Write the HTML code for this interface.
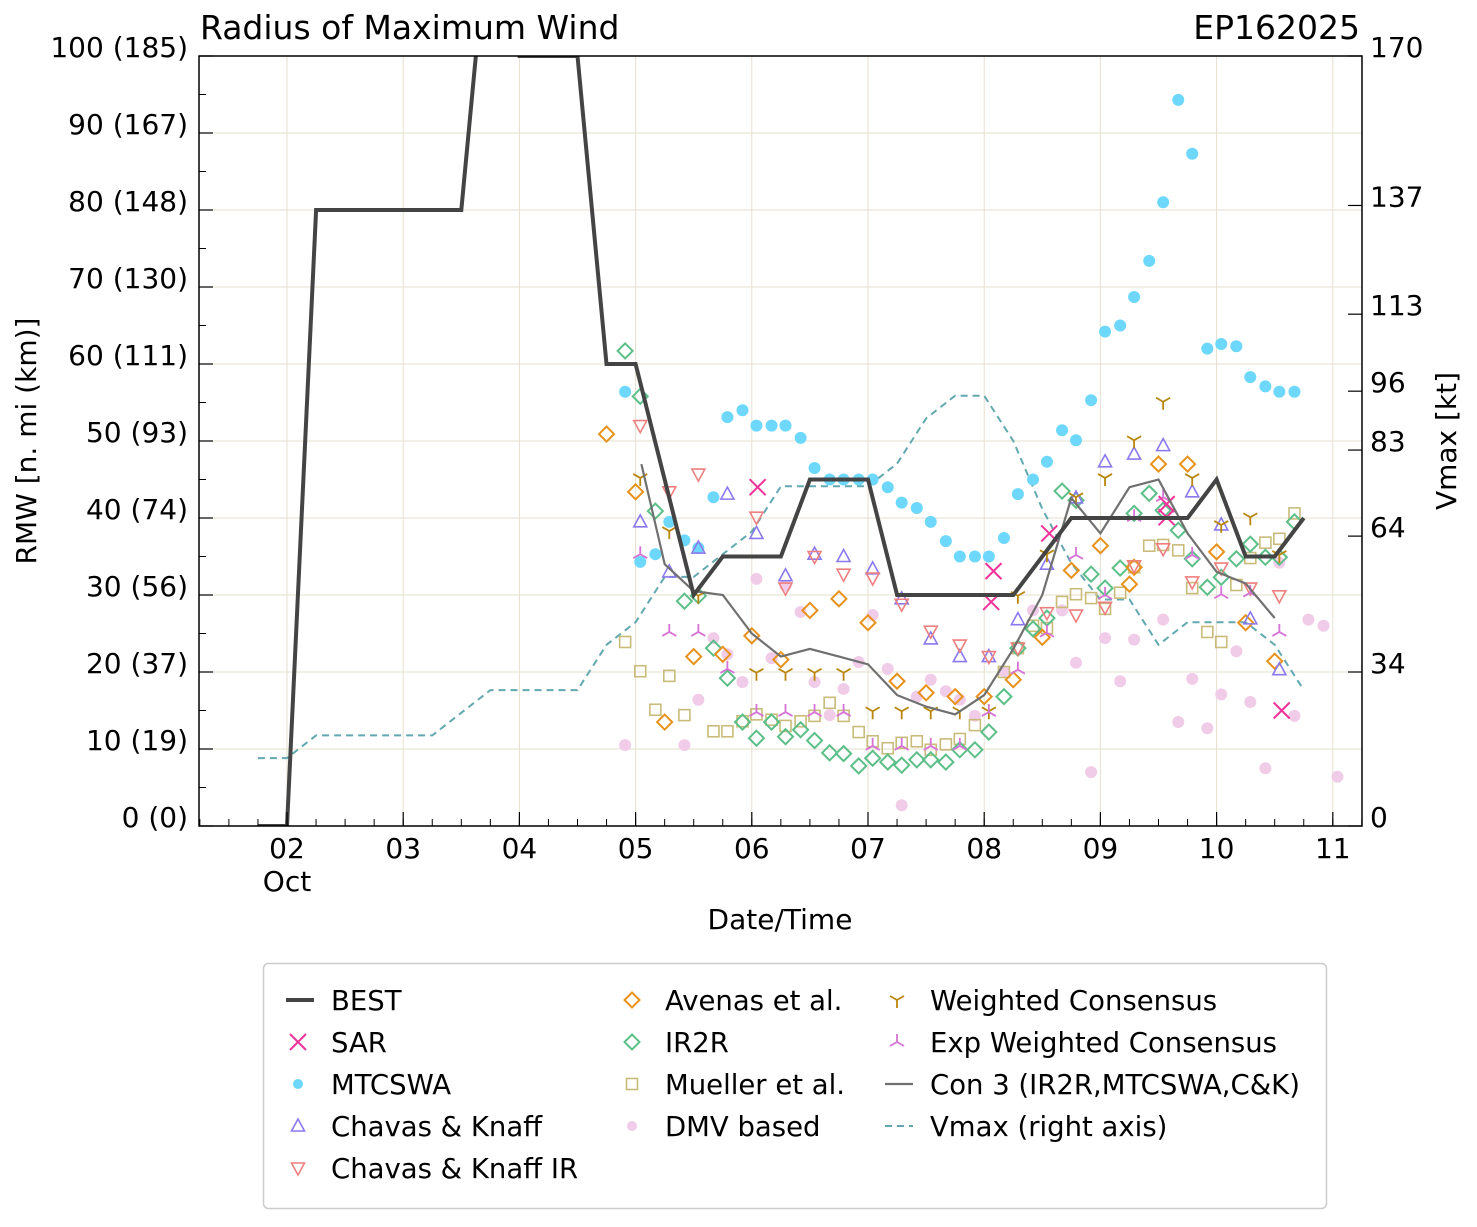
<!DOCTYPE html>
<html><head><meta charset="utf-8">
<style>
body{margin:0;background:#fff;}
svg text{font-family:"DejaVu Sans","Liberation Sans",sans-serif;fill:#000;}
</style></head>
<body>
<svg id="chart" width="1477" height="1222" viewBox="0 0 1477 1222" xmlns="http://www.w3.org/2000/svg">
<defs><clipPath id="plotclip"><rect x="199" y="56" width="1163" height="770"/></clipPath></defs>
<rect x="0" y="0" width="1477" height="1222" fill="#fff"/>
<g id="grid"></g>
<g id="series" clip-path="url(#plotclip)"></g>
<rect x="199" y="56" width="1163" height="770" fill="none" stroke="#000" stroke-width="1.5"/>
<g id="axes"></g>
<text x="200" y="39" font-size="33">Radius of Maximum Wind</text>
<text x="1360" y="39" font-size="33" text-anchor="end">EP162025</text>
<text x="780" y="929" font-size="28" text-anchor="middle">Date/Time</text>
<text transform="translate(36,441) rotate(-90)" font-size="28" text-anchor="middle">RMW [n. mi (km)]</text>
<text transform="translate(1456,441) rotate(-90)" font-size="28" text-anchor="middle">Vmax [kt]</text>
<g id="legend"></g>
</svg>
<script>
const NS="http://www.w3.org/2000/svg";
const xTicks=[2,3,4,5,6,7,8,9,10,11];
const xTickLabels=["02","03","04","05","06","07","08","09","10","11"];
const yTicks=[0,10,20,30,40,50,60,70,80,90,100];
const yTickLabels=["0 (0)","10 (19)","20 (37)","30 (56)","40 (74)","50 (93)","60 (111)","70 (130)","80 (148)","90 (167)","100 (185)"];
const rTicks=[0,34,64,83,96,113,137,170];

const bestT=[1.75,2,2.25,3.5,3.75,4,4.5,4.75,5,5.5,5.75,6.25,6.5,7,7.25,8.25,8.75,9.75,10,10.25,10.5,10.75];
const bestV=[0,0,80,80,120,100,100,60,60,30,35,35,45,45,30,30,40,40,45,35,35,40];

const vmaxT=[1.75,2,2.25,3.25,3.75,4.5,4.75,5,5.25,5.5,5.75,6,6.25,6.5,7,7.25,7.5,7.75,8,8.25,8.5,8.75,9,9.25,9.5,9.75,10,10.25,10.5,10.75];
const vmaxV=[15,15,20,20,30,30,40,45,55,55,60,65,75,75,75,80,90,95,95,85,70,58,50,50,40,45,45,45,40,30];

const con3T=[5.05,5.25,5.5,5.75,6,6.25,6.5,6.75,7,7.25,7.5,7.75,8,8.25,8.5,8.75,9,9.25,9.5,9.75,10,10.25,10.5];
const con3V=[47,34,30.5,30,25,22,23,22,21,17,15.5,14.5,17,23,30,42.6,38,44,45,38,33,31.5,27];

const mtcswa=[[4.91,56.4],[5.04,34.3],[5.17,35.3],[5.29,39.5],[5.42,37.1],[5.54,36.1],[5.67,42.7],[5.79,53.1],[5.92,54],[6.04,52],[6.17,52],[6.29,52],[6.42,50.4],[6.54,46.5],[6.67,45],[6.79,45],[6.92,45],[7.04,45],[7.17,44],[7.29,42],[7.42,41.3],[7.54,39.5],[7.67,37],[7.79,35],[7.92,35],[8.04,35],[8.17,37.4],[8.29,43.1],[8.42,45],[8.54,47.3],[8.67,51.4],[8.79,50.1],[8.92,55.3],[9.04,64.2],[9.17,65],[9.29,68.7],[9.42,73.4],[9.54,81],[9.67,94.3],[9.79,87.3],[9.92,62],[10.04,62.6],[10.17,62.3],[10.29,58.3],[10.42,57.1],[10.54,56.4],[10.67,56.4]];
const sar=[[6.05,44],[8.08,33.1],[8.06,29.1],[8.56,38],[9.57,41.8],[9.57,40.1],[10.56,15]];
const ck=[[5.04,39.5],[5.29,33],[5.54,36.1],[5.79,43.1],[6.04,38],[6.29,32.5],[6.54,35.3],[6.79,35],[7.04,33.4],[7.29,29.5],[7.54,24.3],[7.79,22],[8.04,22],[8.29,26.8],[8.54,34],[8.79,42.6],[9.04,47.3],[9.29,48.3],[9.54,49.4],[9.79,43.4],[10.04,39.1],[10.29,26.9],[10.54,20.3]];
const ckir=[[5.04,52],[5.29,43.4],[5.54,45.7],[6.04,40.1],[6.29,30.9],[6.54,35],[6.79,32.7],[7.04,32.2],[7.29,28.8],[7.54,25.3],[7.79,23.5],[8.04,22],[8.29,23.1],[8.54,27.7],[8.79,27.4],[9.04,28.4],[9.29,33.8],[9.54,36],[9.79,31.7],[10.04,33.5],[10.29,30.9],[10.54,29.9]];
const avenas=[[4.75,50.9],[5,43.4],[5.25,13.5],[5.5,22],[5.75,22.3],[6,24.7],[6.25,21.6],[6.5,28],[6.75,29.5],[7,26.4],[7.25,18.8],[7.5,17.3],[7.75,16.8],[8,16.8],[8.25,19],[8.5,24.5],[8.75,33.2],[9,36.4],[9.25,31.4],[9.29,33.6],[9.5,47],[9.75,47],[10,35.6],[10.25,26.4],[10.5,21.4]];
const ir2r=[[4.91,61.7],[5.04,55.8],[5.17,40.9],[5.42,29.2],[5.54,29.9],[5.67,23.1],[5.79,19.2],[5.92,13.5],[6.04,11.4],[6.17,13.5],[6.29,11.6],[6.42,12.5],[6.54,11.1],[6.67,9.5],[6.79,9.4],[6.92,7.8],[7.04,8.8],[7.17,8.3],[7.29,7.9],[7.42,8.6],[7.54,8.6],[7.67,8.3],[7.79,9.9],[7.92,9.9],[8.04,12.2],[8.17,16.8],[8.29,23.1],[8.42,25.6],[8.54,27],[8.67,43.5],[8.79,42.3],[8.92,32.7],[9.04,30.9],[9.17,33.5],[9.29,40.6],[9.42,43.2],[9.54,41],[9.67,38.4],[9.79,34.7],[9.92,31],[10.04,32.3],[10.17,34.7],[10.29,36.6],[10.42,34.9],[10.54,34.9],[10.67,39.5]];
const mueller=[[4.91,23.9],[5.04,20.1],[5.17,15.1],[5.29,19.5],[5.42,14.4],[5.67,12.3],[5.79,12.3],[5.92,13.6],[6.04,14.5],[6.17,13.8],[6.29,13],[6.42,13.6],[6.54,14.3],[6.67,16],[6.79,14.3],[6.92,12.2],[7.04,11],[7.17,10.1],[7.29,10.8],[7.42,11],[7.54,9.9],[7.67,10.6],[7.79,11.3],[7.92,13.1],[8.17,20],[8.29,23.1],[8.42,26],[8.54,25.7],[8.67,29.1],[8.79,30.1],[8.92,29.6],[9.04,28.2],[9.17,30.3],[9.29,33.6],[9.42,36.4],[9.54,36.5],[9.67,35.8],[9.79,30.9],[9.92,25.2],[10.04,23.9],[10.17,31.3],[10.29,34.8],[10.42,36.8],[10.54,37.3],[10.67,40.6]];
const dmv=[[4.91,10.5],[5.42,10.5],[5.54,16.4],[5.67,24.4],[5.79,22.3],[5.92,18.7],[6.04,32.1],[6.17,21.8],[6.29,31.2],[6.42,27.8],[6.54,18.7],[6.67,14.4],[6.79,17.8],[6.92,21.3],[7.04,27.4],[7.17,20.4],[7.29,2.7],[7.42,16.8],[7.54,19],[7.67,17.5],[7.79,16.4],[7.92,14.3],[8.17,20.1],[8.42,28],[8.67,28],[8.79,21.2],[8.92,7],[9.04,24.4],[9.17,18.8],[9.29,24.2],[9.54,26.8],[9.67,13.5],[9.79,19.1],[9.92,12.7],[10.04,17.1],[10.17,22.7],[10.29,16.1],[10.42,7.5],[10.54,34.2],[10.67,14.3],[10.79,26.8],[10.92,26],[11.04,6.4]];
const wcons=[[5.04,45.2],[5.29,38.3],[5.54,29.9],[6.04,19.9],[6.29,19.9],[6.54,19.9],[6.79,19.9],[7.04,14.9],[7.29,14.9],[7.54,14.9],[7.79,14.9],[8.04,14.9],[8.29,29.9],[8.54,35.3],[8.79,42.7],[9.04,45.2],[9.29,50.1],[9.54,55.1],[9.79,45.2],[10.04,39.1],[10.29,40.1],[10.54,35.2]];
const ewcons=[[5.04,35.3],[5.29,25.2],[5.54,25.2],[5.79,20.4],[6.04,14.8],[6.29,14.8],[6.54,14.8],[6.79,14.8],[7.04,10.4],[7.29,10.4],[7.54,10.4],[7.79,10.4],[8.04,14.8],[8.29,20.3],[8.54,25.1],[8.79,35.2],[9.04,30],[9.29,40.1],[9.54,42.7],[9.79,35.2],[10.04,30.1],[10.29,30.3],[10.54,25.2]];

const X0=199,X1=1362,Y0=826,Y1=56;
const xs=d=>287+(d-2)*116.2;
const ys=v=>Y0-(v/100)*(Y0-Y1);
const yr=k=>Y0-(k/170)*(Y0-Y1);

function mk(tag,attrs,parent){const e=document.createElementNS(NS,tag);for(const k in attrs)e.setAttribute(k,attrs[k]);parent.appendChild(e);return e;}
const grid=document.getElementById('grid'),axes=document.getElementById('axes'),ser=document.getElementById('series'),leg=document.getElementById('legend');

xTicks.forEach((t,i)=>{const x=xs(t);
  let g=mk('line',{x1:x,x2:x,y1:Y1,y2:Y0,stroke:'#e6dfcf','stroke-width':1},grid);
  
  let tk=mk('line',{x1:x,x2:x,y1:Y0,y2:Y0-14,stroke:'#000','stroke-width':1.2},axes);
  
  let tx=mk('text',{x:x,y:858,'font-size':28,'text-anchor':'middle'},axes);tx.textContent=xTickLabels[i];
  
});
for(let d=1.25;d<=11.25;d+=0.25){const x=xs(d);if(x<X0||x>X1)continue;
  const m=mk('line',{x1:x,x2:x,y1:Y0,y2:Y0-7,stroke:'#000','stroke-width':1},axes);
  }
{const o=mk('text',{x:xs(2),y:891,'font-size':28,'text-anchor':'middle'},axes);o.textContent='Oct';
 }
yTicks.forEach((v,i)=>{const y=ys(v);
  let g=mk('line',{x1:X0,x2:X1,y1:y,y2:y,stroke:'#e6dfcf','stroke-width':1},grid);
  
  let tk=mk('line',{x1:X0,x2:X0+14,y1:y,y2:y,stroke:'#000','stroke-width':1.2},axes);
  
  let tx=mk('text',{x:188,y:y+1,'font-size':28,'text-anchor':'end'},axes);tx.textContent=yTickLabels[i];
  
  if(v<100){const m=mk('line',{x1:X0,x2:X0+7,y1:ys(v+5),y2:ys(v+5),stroke:'#000','stroke-width':1},axes);
  }
});
rTicks.forEach(k=>{const y=yr(k);
  let tk=mk('line',{x1:X1-14,x2:X1,y1:y,y2:y,stroke:'#000','stroke-width':1.2},axes);
  
  let tx=mk('text',{x:1370,y:y+1,'font-size':28},axes);tx.textContent=String(k);
  
});

function linePath(T,V,f){return T.map((t,i)=>(i?'L':'M')+xs(t).toFixed(1)+','+f(V[i]).toFixed(1)).join(' ');}

function marker(type,x,y,color,parent){let e;
  if(type==='circle'){e=mk('circle',{cx:x,cy:y,r:6,fill:color},parent);}
  else if(type==='x'){e=mk('path',{d:`M${x-8},${y-8}L${x+8},${y+8}M${x-8},${y+8}L${x+8},${y-8}`,stroke:color,'stroke-width':2,fill:'none'},parent);}
  else if(type==='tu'){e=mk('path',{d:`M${x},${y-7}L${x+6.5},${y+5}L${x-6.5},${y+5}Z`,stroke:color,'stroke-width':1.6,fill:'none'},parent);}
  else if(type==='td'){e=mk('path',{d:`M${x},${y+7}L${x+6.5},${y-5}L${x-6.5},${y-5}Z`,stroke:color,'stroke-width':1.6,fill:'none'},parent);}
  else if(type==='dia'){e=mk('path',{d:`M${x},${y-7.5}L${x+7.5},${y}L${x},${y+7.5}L${x-7.5},${y}Z`,stroke:color,'stroke-width':2,fill:'none'},parent);}
  else if(type==='sq'){e=mk('rect',{x:x-5.5,y:y-5.5,width:11,height:11,stroke:color,'stroke-width':1.6,fill:'none'},parent);}
  else if(type==='ydown'){e=mk('path',{d:`M${x},${y}L${x},${y+8}M${x},${y}L${x-7},${y-4}M${x},${y}L${x+7},${y-4}`,stroke:color,'stroke-width':1.8,fill:'none'},parent);}
  else if(type==='yup'){e=mk('path',{d:`M${x},${y}L${x},${y-8}M${x},${y}L${x-7},${y+4}M${x},${y}L${x+7},${y+4}`,stroke:color,'stroke-width':1.8,fill:'none'},parent);}
  return e;}

{const p=mk('path',{d:linePath(vmaxT,vmaxV,yr),stroke:'#62a8b0','stroke-width':2,'stroke-dasharray':'7,5',fill:'none'},ser);
 }
const scat=[
 ['dmv',dmv,'circle','#f1cce8'],
 ['mtcswa',mtcswa,'circle','#6dd8fb'],
 ['mueller',mueller,'sq','#c9bc7a'],
 ['ir2r',ir2r,'dia','#5cbf88'],
 ['avenas',avenas,'dia','#e8921c'],
 ['chavas-knaff',ck,'tu','#8b78ee'],
 ['chavas-knaff-ir',ckir,'td','#ee7f7f'],
 ['weighted-consensus',wcons,'ydown','#b8860b'],
 ['exp-weighted-consensus',ewcons,'yup','#d673d6'],
 ['sar',sar,'x','#f0339a']];
scat.forEach(([nm,arr,type,col])=>{const g=mk('g',{},ser);
  
  arr.forEach(([t,v])=>{const m=marker(type,xs(t),ys(v),col,g);
    });
});
{const p=mk('path',{d:linePath(con3T,con3V,ys),stroke:'#707070','stroke-width':2.2,fill:'none'},ser);
 }
{const p=mk('path',{d:linePath(bestT,bestV,ys),stroke:'#444','stroke-width':4,fill:'none','stroke-linejoin':'miter'},ser);
 }

{const b=mk('rect',{x:263.5,y:963.5,width:1063,height:245,rx:5,fill:'#fff',stroke:'#ccc','stroke-width':1.5},leg);
 }
const legItems=[
 [298,1000,'line','#444','BEST',4],[298,1042,'x','#f0339a','SAR'],[298,1084,'circle','#6dd8fb','MTCSWA'],
 [298,1126,'tu','#8b78ee','Chavas & Knaff'],[298,1168,'td','#ee7f7f','Chavas & Knaff IR'],
 [632,1000,'dia','#e8921c','Avenas et al.'],[632,1042,'dia','#5cbf88','IR2R'],[632,1084,'sq','#c9bc7a','Mueller et al.'],
 [632,1126,'circle','#f1cce8','DMV based'],
 [897,1000,'ydown','#b8860b','Weighted Consensus'],[897,1042,'yup','#d673d6','Exp Weighted Consensus'],
 [897,1084,'line','#707070','Con 3 (IR2R,MTCSWA,C&K)',2.2],[897,1126,'dash','#62a8b0','Vmax (right axis)',2]];
legItems.forEach(([x,y,type,col,label,w])=>{const g=mk('g',{},leg);
  
  if(type==='line')mk('line',{x1:x-12,x2:x+16,y1:y,y2:y,stroke:col,'stroke-width':w},g);
  else if(type==='dash')mk('line',{x1:x-12,x2:x+16,y1:y,y2:y,stroke:col,'stroke-width':w,'stroke-dasharray':'7,5'},g);
  else {const m=marker(type,x,y,col,g);
    if(type==='circle')m.setAttribute('r',5);}
  const t=mk('text',{x:x+33,y:y+10,'font-size':27.5},g);t.textContent=label;
});
</script>
</body></html>
